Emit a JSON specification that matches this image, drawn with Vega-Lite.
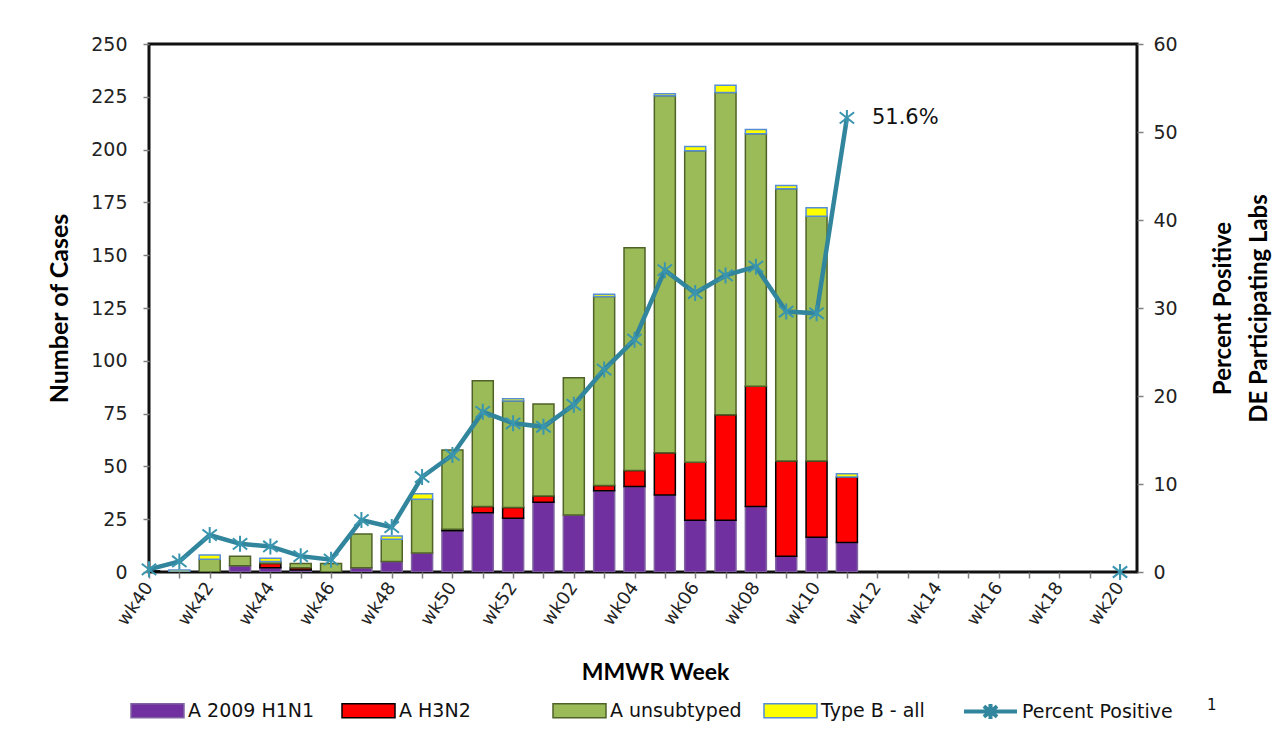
{
  "$schema": "https://vega.github.io/schema/vega-lite/v6.json",
  "width": 988,
  "height": 528,
  "autosize": {"type": "none"},
  "padding": {"left": 149, "top": 44, "right": 150, "bottom": 177},
  "background": "white",
  "config": {
    "view": {"stroke": "#111111", "strokeWidth": 3},
    "font": "DejaVu Sans",
    "axis": {"grid": false, "domain": false, "tickColor": "#808080", "tickWidth": 1.5, "tickSize": 6, "labelColor": "#222222", "labelFont": "DejaVu Sans", "titleFont": "Lato", "titleFontWeight": "bold", "titleColor": "#000000"},
    "legend": {"labelFont": "DejaVu Sans", "labelColor": "#111111"}
  },
  "datasets": {
    "cases": [
      {"week": "wk40", "series": "A H3N2", "n": 0.5, "ord": 2},
      {"week": "wk41", "series": "Type B - all", "n": 1, "ord": 4},
      {"week": "wk42", "series": "A unsubtyped", "n": 6, "ord": 3},
      {"week": "wk42", "series": "Type B - all", "n": 2, "ord": 4},
      {"week": "wk43", "series": "A 2009 H1N1", "n": 3, "ord": 1},
      {"week": "wk43", "series": "A unsubtyped", "n": 4.5, "ord": 3},
      {"week": "wk44", "series": "A 2009 H1N1", "n": 2, "ord": 1},
      {"week": "wk44", "series": "A H3N2", "n": 2, "ord": 2},
      {"week": "wk44", "series": "A unsubtyped", "n": 1, "ord": 3},
      {"week": "wk44", "series": "Type B - all", "n": 1.5, "ord": 4},
      {"week": "wk45", "series": "A 2009 H1N1", "n": 1, "ord": 1},
      {"week": "wk45", "series": "A H3N2", "n": 1, "ord": 2},
      {"week": "wk45", "series": "A unsubtyped", "n": 2, "ord": 3},
      {"week": "wk46", "series": "A unsubtyped", "n": 4, "ord": 3},
      {"week": "wk47", "series": "A 2009 H1N1", "n": 2, "ord": 1},
      {"week": "wk47", "series": "A unsubtyped", "n": 16, "ord": 3},
      {"week": "wk48", "series": "A 2009 H1N1", "n": 5, "ord": 1},
      {"week": "wk48", "series": "A unsubtyped", "n": 10.5, "ord": 3},
      {"week": "wk48", "series": "Type B - all", "n": 1.5, "ord": 4},
      {"week": "wk49", "series": "A 2009 H1N1", "n": 9, "ord": 1},
      {"week": "wk49", "series": "A unsubtyped", "n": 25.5, "ord": 3},
      {"week": "wk49", "series": "Type B - all", "n": 2.5, "ord": 4},
      {"week": "wk50", "series": "A 2009 H1N1", "n": 19.5, "ord": 1},
      {"week": "wk50", "series": "A H3N2", "n": 0.8, "ord": 2},
      {"week": "wk50", "series": "A unsubtyped", "n": 37.5, "ord": 3},
      {"week": "wk51", "series": "A 2009 H1N1", "n": 28, "ord": 1},
      {"week": "wk51", "series": "A H3N2", "n": 3, "ord": 2},
      {"week": "wk51", "series": "A unsubtyped", "n": 59.5, "ord": 3},
      {"week": "wk52", "series": "A 2009 H1N1", "n": 25.5, "ord": 1},
      {"week": "wk52", "series": "A H3N2", "n": 5, "ord": 2},
      {"week": "wk52", "series": "A unsubtyped", "n": 50.5, "ord": 3},
      {"week": "wk52", "series": "Type B - all", "n": 1, "ord": 4},
      {"week": "wk01", "series": "A 2009 H1N1", "n": 33, "ord": 1},
      {"week": "wk01", "series": "A H3N2", "n": 3, "ord": 2},
      {"week": "wk01", "series": "A unsubtyped", "n": 43.5, "ord": 3},
      {"week": "wk02", "series": "A 2009 H1N1", "n": 27, "ord": 1},
      {"week": "wk02", "series": "A unsubtyped", "n": 65, "ord": 3},
      {"week": "wk03", "series": "A 2009 H1N1", "n": 38.5, "ord": 1},
      {"week": "wk03", "series": "A H3N2", "n": 2.5, "ord": 2},
      {"week": "wk03", "series": "A unsubtyped", "n": 89.5, "ord": 3},
      {"week": "wk03", "series": "Type B - all", "n": 1, "ord": 4},
      {"week": "wk04", "series": "A 2009 H1N1", "n": 40.5, "ord": 1},
      {"week": "wk04", "series": "A H3N2", "n": 7.5, "ord": 2},
      {"week": "wk04", "series": "A unsubtyped", "n": 105.5, "ord": 3},
      {"week": "wk05", "series": "A 2009 H1N1", "n": 36.5, "ord": 1},
      {"week": "wk05", "series": "A H3N2", "n": 20, "ord": 2},
      {"week": "wk05", "series": "A unsubtyped", "n": 169, "ord": 3},
      {"week": "wk05", "series": "Type B - all", "n": 1, "ord": 4},
      {"week": "wk06", "series": "A 2009 H1N1", "n": 24.5, "ord": 1},
      {"week": "wk06", "series": "A H3N2", "n": 27.5, "ord": 2},
      {"week": "wk06", "series": "A unsubtyped", "n": 147.5, "ord": 3},
      {"week": "wk06", "series": "Type B - all", "n": 2, "ord": 4},
      {"week": "wk07", "series": "A 2009 H1N1", "n": 24.5, "ord": 1},
      {"week": "wk07", "series": "A H3N2", "n": 50, "ord": 2},
      {"week": "wk07", "series": "A unsubtyped", "n": 152.5, "ord": 3},
      {"week": "wk07", "series": "Type B - all", "n": 3.5, "ord": 4},
      {"week": "wk08", "series": "A 2009 H1N1", "n": 31, "ord": 1},
      {"week": "wk08", "series": "A H3N2", "n": 57, "ord": 2},
      {"week": "wk08", "series": "A unsubtyped", "n": 119.5, "ord": 3},
      {"week": "wk08", "series": "Type B - all", "n": 2, "ord": 4},
      {"week": "wk09", "series": "A 2009 H1N1", "n": 7.5, "ord": 1},
      {"week": "wk09", "series": "A H3N2", "n": 45, "ord": 2},
      {"week": "wk09", "series": "A unsubtyped", "n": 129, "ord": 3},
      {"week": "wk09", "series": "Type B - all", "n": 1.5, "ord": 4},
      {"week": "wk10", "series": "A 2009 H1N1", "n": 16.5, "ord": 1},
      {"week": "wk10", "series": "A H3N2", "n": 36, "ord": 2},
      {"week": "wk10", "series": "A unsubtyped", "n": 116, "ord": 3},
      {"week": "wk10", "series": "Type B - all", "n": 4, "ord": 4},
      {"week": "wk11", "series": "A 2009 H1N1", "n": 14, "ord": 1},
      {"week": "wk11", "series": "A H3N2", "n": 31, "ord": 2},
      {"week": "wk11", "series": "Type B - all", "n": 1.5, "ord": 4}
    ],
    "pct": [
      {"week": "wk40", "pct": 0.3},
      {"week": "wk41", "pct": 1.2},
      {"week": "wk42", "pct": 4.2},
      {"week": "wk43", "pct": 3.2},
      {"week": "wk44", "pct": 2.9},
      {"week": "wk45", "pct": 1.8},
      {"week": "wk46", "pct": 1.4},
      {"week": "wk47", "pct": 5.9},
      {"week": "wk48", "pct": 5.1},
      {"week": "wk49", "pct": 10.8},
      {"week": "wk50", "pct": 13.3},
      {"week": "wk51", "pct": 18.2},
      {"week": "wk52", "pct": 16.9},
      {"week": "wk01", "pct": 16.5},
      {"week": "wk02", "pct": 19.0},
      {"week": "wk03", "pct": 23.0},
      {"week": "wk04", "pct": 26.4},
      {"week": "wk05", "pct": 34.3},
      {"week": "wk06", "pct": 31.7},
      {"week": "wk07", "pct": 33.7},
      {"week": "wk08", "pct": 34.7},
      {"week": "wk09", "pct": 29.6},
      {"week": "wk10", "pct": 29.4},
      {"week": "wk11", "pct": 51.6, "label": "51.6%"},
      {"week": "wk20", "pct": 0}
    ]
  },
  "layer": [
    {
      "data": {"name": "cases"},
      "mark": {"type": "bar", "width": 21, "strokeWidth": 1.5, "clip": true},
      "encoding": {
        "x": {
          "field": "week", "type": "ordinal", "sort": null,
          "scale": {"type": "point", "padding": 0, "domain": ["wk40","wk41","wk42","wk43","wk44","wk45","wk46","wk47","wk48","wk49","wk50","wk51","wk52","wk01","wk02","wk03","wk04","wk05","wk06","wk07","wk08","wk09","wk10","wk11","wk12","wk13","wk14","wk15","wk16","wk17","wk18","wk19","wk20"], "range": [0, 971]},
          "axis": {"title": "MMWR Week", "labelAngle": -55, "labelFontSize": 18, "labelPadding": 6, "labelExpr": "test(/[13579]$/, datum.value) ? '' : datum.label", "titleFontSize": 23, "titlePadding": 33, "titleX": 506}
        },
        "y": {
          "field": "n", "type": "quantitative", "stack": "zero",
          "scale": {"domain": [0, 250]},
          "axis": {"title": "Number of Cases", "values": [0,25,50,75,100,125,150,175,200,225,250], "labelFontSize": 19, "labelPadding": 16, "titleFontSize": 25, "titlePadding": 18}
        },
        "fill": {
          "field": "series", "type": "nominal",
          "scale": {"domain": ["A 2009 H1N1","A H3N2","A unsubtyped","Type B - all"], "range": ["#7030A0","#FF0000","#9BBB59","#FFFF00"]},
          "legend": {
            "orient": "none", "legendX": -19, "legendY": 639, "direction": "horizontal", "columns": 4, "gridAlign": "all",
            "title": null, "symbolType": "M-1,-0.264H1V0.264H-1Z", "symbolSize": 2809, "symbolStrokeWidth": 1.5,
            "labelFontSize": 19, "labelOffset": 3, "columnPadding": 19, "labelLimit": 400,
            "encode": {"symbols": {"update": {"stroke": {"signal": "datum.label === 'A H3N2' ? '#000000' : datum.label === 'A unsubtyped' ? '#4F6228' : datum.label === 'Type B - all' ? '#558ED5' : '#8064A2'"}, "strokeWidth": {"value": 1.5}}}}
          }
        },
        "stroke": {
          "field": "series", "type": "nominal",
          "scale": {"domain": ["A 2009 H1N1","A H3N2","A unsubtyped","Type B - all"], "range": ["#8064A2","#000000","#4F6228","#558ED5"]},
          "legend": null
        },
        "order": {"field": "ord", "type": "quantitative"}
      }
    },
    {
      "data": {"name": "pct"},
      "layer": [
        {
          "transform": [{"filter": "datum.week !== 'wk20'"}],
          "mark": {"type": "line", "strokeWidth": 4.5},
          "encoding": {
            "x": {"field": "week", "type": "ordinal", "sort": null},
            "y": {
              "field": "pct", "type": "quantitative", "scale": {"domain": [0, 60]},
              "axis": {"orient": "right", "title": ["Percent Positive", "DE Participating Labs"], "values": [0,10,20,30,40,50,60], "labelFontSize": 19, "labelPadding": 10, "titleFontSize": 24, "titleAngle": 270, "titleBaseline": "top", "titlePadding": -2, "titleLineHeight": 36}
            },
            "color": {
              "datum": "Percent Positive", "scale": {"range": ["#31859C"]},
              "legend": {
                "orient": "none", "legendX": 813, "legendY": 639, "direction": "horizontal",
                "title": "1", "titleOrient": "right", "titleFontSize": 15, "titleFontWeight": "normal", "titleFont": "DejaVu Sans", "titleColor": "#111111", "titlePadding": 34,
                "symbolType": "M-1,0H1M0,-0.28V0.28M-0.25,-0.2L0.25,0.2M-0.25,0.2L0.25,-0.2", "symbolSize": 2809, "symbolStrokeWidth": 4,
                "labelFontSize": 19, "labelOffset": 3, "labelLimit": 400
              }
            }
          }
        },
        {
          "mark": {"type": "point", "shape": "M0,-1V1M-0.9,-0.7L0.9,0.7M-0.9,0.7L0.9,-0.7", "filled": false, "size": 256, "strokeWidth": 2, "color": "#3A95AE", "opacity": 1},
          "encoding": {
            "x": {"field": "week", "type": "ordinal", "sort": null},
            "y": {"field": "pct", "type": "quantitative"}
          }
        },
        {
          "transform": [{"filter": "isValid(datum.label)"}],
          "mark": {"type": "text", "align": "left", "baseline": "middle", "dx": 25, "fontSize": 21, "font": "DejaVu Sans", "color": "#111111"},
          "encoding": {
            "x": {"field": "week", "type": "ordinal", "sort": null},
            "y": {"field": "pct", "type": "quantitative"},
            "text": {"field": "label"}
          }
        }
      ]
    }
  ],
  "resolve": {"scale": {"y": "independent"}}
}
